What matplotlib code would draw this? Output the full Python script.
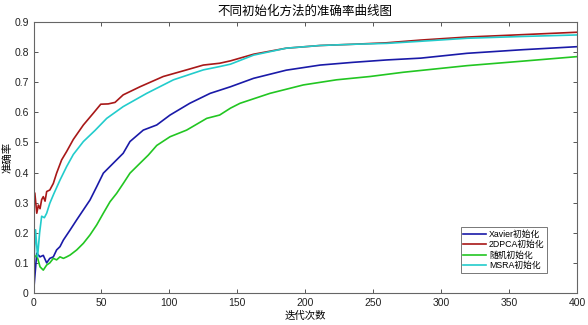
import matplotlib
matplotlib.use("Agg")
import matplotlib.pyplot as plt

plt.rcParams['font.family'] = ['Liberation Sans', 'Noto Sans CJK SC', 'DejaVu Sans']

xavier_x = [0, 2.4, 4.8, 7.2, 9.7, 12, 14.6, 17, 19.5, 22, 26.9, 31.8, 36.7, 41.6, 46.5, 51.4, 58.7, 66, 71, 80.8, 90.7, 100.5, 115, 130, 145, 162, 186, 211, 235, 260, 285, 319, 360, 400]
xavier_y = [0, 0.132, 0.12, 0.125, 0.10, 0.115, 0.12, 0.143, 0.154, 0.176, 0.209, 0.243, 0.276, 0.309, 0.353, 0.398, 0.431, 0.464, 0.503, 0.541, 0.558, 0.591, 0.63, 0.663, 0.685, 0.713, 0.74, 0.757, 0.766, 0.774, 0.78, 0.796, 0.808, 0.818]

pca_x = [1, 2.4, 3.6, 4.8, 6, 7.2, 8.5, 9.7, 12, 14.6, 17, 20.7, 24.4, 29.3, 36.7, 44, 49.5, 55, 60, 66, 78.4, 95.5, 112.7, 125, 137, 145, 162, 186, 211, 235, 260, 285, 319, 360, 400]
pca_y = [0.331, 0.265, 0.292, 0.28, 0.31, 0.32, 0.305, 0.337, 0.342, 0.364, 0.398, 0.442, 0.47, 0.51, 0.558, 0.597, 0.627, 0.628, 0.633, 0.658, 0.685, 0.719, 0.741, 0.757, 0.763, 0.771, 0.793, 0.813, 0.822, 0.826, 0.831, 0.84, 0.85, 0.858, 0.866]

rand_x = [1, 2.4, 4.8, 7.2, 9.7, 12, 14.6, 17, 19.5, 22, 24.4, 26.9, 31.8, 36.7, 41.6, 46.5, 51.4, 56.3, 61.2, 66.1, 71, 78.4, 84.5, 90.7, 100.5, 112.7, 127.5, 137, 145, 152, 174, 198.6, 223, 247.7, 272, 319, 360, 400]
rand_y = [0.12, 0.126, 0.087, 0.076, 0.093, 0.1, 0.115, 0.11, 0.12, 0.115, 0.12, 0.126, 0.143, 0.165, 0.193, 0.226, 0.265, 0.303, 0.331, 0.364, 0.398, 0.431, 0.458, 0.49, 0.519, 0.541, 0.58, 0.591, 0.614, 0.63, 0.663, 0.691, 0.708, 0.719, 0.733, 0.755, 0.77, 0.785]

msra_x = [0.5, 1.5, 3, 4.5, 6, 8, 9.7, 12, 15, 19.5, 24.4, 29.3, 36.7, 45.3, 53.9, 66, 83.3, 103, 125, 137, 145, 162, 186, 211, 235, 260, 285, 319, 360, 400]
msra_y = [0.12, 0.21, 0.12, 0.2, 0.255, 0.25, 0.265, 0.298, 0.33, 0.375, 0.42, 0.46, 0.503, 0.54, 0.58, 0.619, 0.663, 0.708, 0.741, 0.752, 0.76, 0.79, 0.813, 0.822, 0.826, 0.829, 0.836, 0.846, 0.852, 0.857]

labels = ['Xavier初始化', '2DPCA初始化', '随机初始化', 'MSRA初始化']
colors = ['#1a1aa8', '#a81818', '#22c622', '#22cccc']

fig = plt.figure(figsize=(5.88, 3.25), dpi=100)
ax = fig.add_axes([33.5/588, 1 - 293/325, (577 - 33.5)/588, (293 - 22)/325])

series = [(xavier_x, xavier_y), (pca_x, pca_y), (rand_x, rand_y), (msra_x, msra_y)]
for (xs, ys), lab, c in zip(series, labels, colors):
    ax.plot(xs, ys, color=c, lw=1.2, label=lab)

ax.set_xlim(0, 400)
ax.set_ylim(0, 0.9)
ax.set_xticks(range(0, 401, 50))
ax.set_yticks([0, 0.1, 0.2, 0.3, 0.4, 0.5, 0.6, 0.7, 0.8, 0.9])
ax.set_yticklabels(['0', '0.1', '0.2', '0.3', '0.4', '0.5', '0.6', '0.7', '0.8', '0.9'])
ax.tick_params(direction='in', top=True, right=True, labelsize=7.5, colors='#555555',
               labelcolor='#222222', length=3, width=0.7)
for s in ax.spines.values():
    s.set_color('#666666')
    s.set_linewidth(0.8)

ax.set_title('不同初始化方法的准确率曲线图', fontsize=9, pad=5)
ax.set_xlabel('迭代次数', fontsize=7.5, labelpad=2)
ax.set_ylabel('准确率', fontsize=7.5, labelpad=1)

leg = ax.legend(loc='lower right', bbox_to_anchor=(0.945, 0.075), fontsize=6.3, frameon=True,
                fancybox=False, handlelength=2.6, handletextpad=0.3, borderpad=0.3,
                labelspacing=0.15, borderaxespad=0)
leg.get_frame().set_edgecolor('#555555')
leg.get_frame().set_linewidth(0.7)

fig.savefig('out.png', dpi=100)
